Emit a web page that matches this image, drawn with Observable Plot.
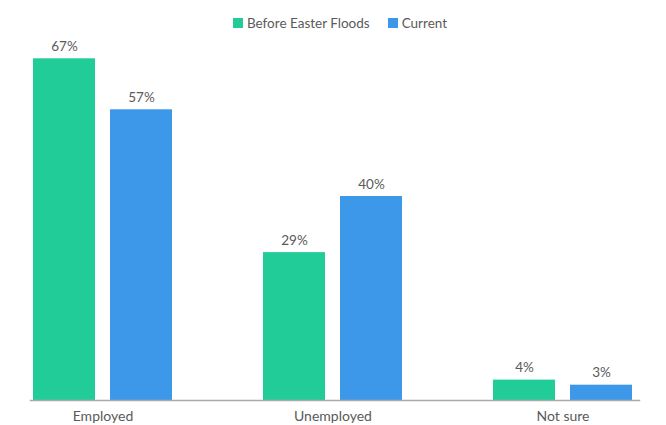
<!DOCTYPE html>
<html>
<head>
<meta charset="utf-8">
<script src="https://cdn.jsdelivr.net/npm/d3@7"></script>
<script src="https://cdn.jsdelivr.net/npm/@observablehq/plot@0.6"></script>
<style>
  body { margin: 0; background: #fff; font-family: Lato, "Open Sans", sans-serif; }
  #legend { height: 36px; display: flex; justify-content: center; align-items: center; gap: 18px; padding-left: 14px; padding-top: 9px; box-sizing: border-box; font-size: 13.5px; color: #5a5a5a; }
  .item { display: flex; align-items: center; gap: 4px; }
  .sw { width: 10px; height: 10px; display: inline-block; }
</style>
</head>
<body>
<div id="legend"></div>
<div id="chart"></div>
<script>
const categories = ["Employed", "Unemployed", "Not sure"];
const series = ["Before Easter Floods", "Current"];
const beforeValues = [67, 29, 4];
const currentValues = [57, 40, 3];
const colors = ["#22cc99", "#3d98e9"];

const data = [];
categories.forEach((c, i) => {
  data.push({category: c, series: series[0], value: beforeValues[i]});
  data.push({category: c, series: series[1], value: currentValues[i]});
});

const legend = document.getElementById("legend");
series.forEach((s, i) => {
  const it = document.createElement("div");
  it.className = "item";
  it.innerHTML = `<span class="sw" style="background:${colors[i]}"></span><span>${s}</span>`;
  legend.appendChild(it);
});

const chart = Plot.plot({
  width: 666,
  height: 389,
  marginTop: 7,
  marginBottom: 25,
  marginLeft: 10,
  marginRight: 11,
  style: {fontFamily: "Lato, 'Open Sans', sans-serif", fontSize: "13px", color: "#5a5a5a", overflow: "visible"},
  fx: {domain: categories, paddingInner: 0.396, paddingOuter: 0.1, label: null},
  x: {domain: series, paddingInner: 0.195, paddingOuter: 0, axis: null},
  y: {domain: [0, 70], axis: null},
  color: {domain: series, range: colors},
  marks: [
    Plot.barY(data, {fx: "category", x: "series", y: "value", fill: "series"}),
    Plot.text(data, {fx: "category", x: "series", y: "value", text: d => d.value + "%", lineAnchor: "bottom", dy: -8, fill: "#5a5a5a", fontSize: 13.5}),
    Plot.axisFx({anchor: "bottom", tickSize: 0, tickPadding: 11, label: null, fill: "#5a5a5a", fontSize: 14}),
    Plot.frame({anchor: "bottom", facet: "super", stroke: "#aaa", strokeWidth: 1.5, insetLeft: -3, insetRight: -7})
  ]
});
document.getElementById("chart").appendChild(chart);
</script>
</body>
</html>
